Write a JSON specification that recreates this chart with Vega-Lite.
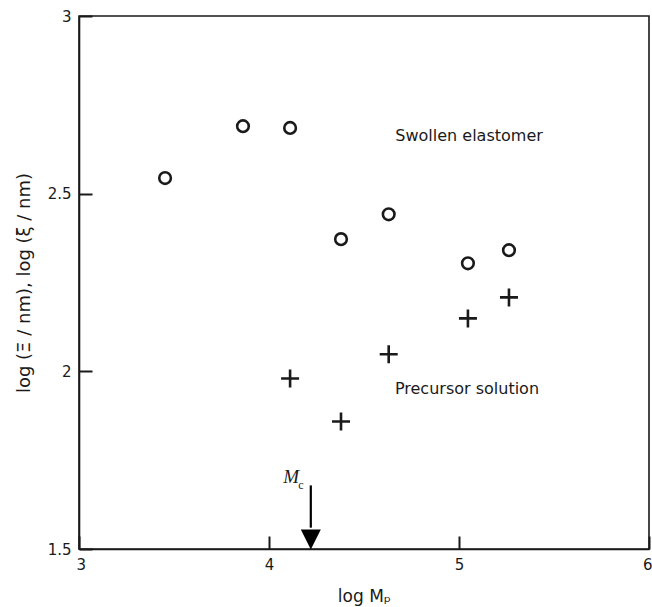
{
  "$schema": "https://vega.github.io/schema/vega-lite/v6.json",
  "width": 570,
  "height": 533,
  "autosize": {"type": "none"},
  "padding": {"left": 79, "top": 16, "right": 3, "bottom": 58},
  "background": "white",
  "config": {
    "view": {"stroke": "#1a1a1a", "strokeWidth": 1.6},
    "axis": {
      "domainColor": "#1a1a1a",
      "domainWidth": 1.6,
      "tickColor": "#1a1a1a",
      "tickWidth": 2,
      "tickSize": -13,
      "grid": false,
      "labelFont": "DejaVu Sans",
      "labelFontSize": 15,
      "labelColor": "#1a1a1a",
      "titleFont": "DejaVu Sans",
      "titleFontSize": 17,
      "titleFontWeight": "normal",
      "titleColor": "#1a1a1a"
    }
  },
  "datasets": {
    "points": [
      {"logMp": 3.453, "logXi": 2.544, "series": "Swollen elastomer"},
      {"logMp": 3.863, "logXi": 2.690, "series": "Swollen elastomer"},
      {"logMp": 4.111, "logXi": 2.685, "series": "Swollen elastomer"},
      {"logMp": 4.379, "logXi": 2.372, "series": "Swollen elastomer"},
      {"logMp": 4.630, "logXi": 2.442, "series": "Swollen elastomer"},
      {"logMp": 5.047, "logXi": 2.304, "series": "Swollen elastomer"},
      {"logMp": 5.263, "logXi": 2.341, "series": "Swollen elastomer"},
      {"logMp": 4.111, "logXi": 1.980, "series": "Precursor solution"},
      {"logMp": 4.379, "logXi": 1.859, "series": "Precursor solution"},
      {"logMp": 4.630, "logXi": 2.048, "series": "Precursor solution"},
      {"logMp": 5.047, "logXi": 2.149, "series": "Precursor solution"},
      {"logMp": 5.263, "logXi": 2.208, "series": "Precursor solution"}
    ],
    "labels": [
      {"x": 5.053, "y": 2.662, "label": "Swollen elastomer"},
      {"x": 5.042, "y": 1.949, "label": "Precursor solution"}
    ],
    "arrow": [
      {"x": 4.22, "y": 1.679, "y2": 1.56, "tip": 1.5268}
    ],
    "mc": [
      {"x": 4.116, "y": 1.703, "label": "M"}
    ],
    "mcsub": [
      {"x": 4.168, "y": 1.680, "label": "c"}
    ]
  },
  "layer": [
    {
      "data": {"name": "points"},
      "transform": [{"filter": "datum.series === 'Swollen elastomer'"}],
      "mark": {"type": "point", "shape": "circle", "filled": false, "stroke": "#1a1a1a", "strokeWidth": 2.6, "size": 135, "opacity": 1},
      "encoding": {
        "x": {
          "field": "logMp", "type": "quantitative",
          "scale": {"domain": [3, 6], "nice": false, "zero": false},
          "axis": {
            "values": [3, 4, 5, 6], "format": "~g", "labelPadding": 21,
            "labelFlush": true, "labelFlushOffset": 3,
            "title": "log Mₚ", "titlePadding": 16,
            "encode": {"ticks": {"update": {"y2": {"value": -13}}}}
          }
        },
        "y": {
          "field": "logXi", "type": "quantitative",
          "scale": {"domain": [1.5, 3], "nice": false, "zero": false},
          "axis": {
            "values": [1.5, 2, 2.5, 3], "format": "~g", "labelPadding": 21,
            "labelFlush": false,
            "title": "log (Ξ / nm),  log (ξ / nm)", "titleFontSize": 18, "titlePadding": 14,
            "encode": {"ticks": {"update": {"x2": {"value": 13}}}}
          }
        }
      }
    },
    {
      "data": {"name": "points"},
      "transform": [{"filter": "datum.series === 'Precursor solution'"}],
      "mark": {"type": "point", "shape": "M-1,0L1,0M0,-1L0,1", "filled": false, "stroke": "#1a1a1a", "strokeWidth": 2.6, "size": 324, "opacity": 1},
      "encoding": {
        "x": {"field": "logMp", "type": "quantitative"},
        "y": {"field": "logXi", "type": "quantitative"}
      }
    },
    {
      "data": {"name": "labels"},
      "mark": {"type": "text", "font": "DejaVu Sans", "fontSize": 16, "color": "#1a1a1a", "align": "center", "baseline": "middle"},
      "encoding": {
        "x": {"field": "x", "type": "quantitative"},
        "y": {"field": "y", "type": "quantitative"},
        "text": {"field": "label"}
      }
    },
    {
      "data": {"name": "arrow"},
      "mark": {"type": "rule", "color": "#000000", "strokeWidth": 2.2},
      "encoding": {
        "x": {"field": "x", "type": "quantitative"},
        "y": {"field": "y", "type": "quantitative"},
        "y2": {"field": "y2"}
      }
    },
    {
      "data": {"name": "arrow"},
      "mark": {"type": "point", "shape": "M-1,-1L1,-1L0,1Z", "filled": true, "color": "#000000", "size": 400, "opacity": 1},
      "encoding": {
        "x": {"field": "x", "type": "quantitative"},
        "y": {"field": "tip", "type": "quantitative"}
      }
    },
    {
      "data": {"name": "mc"},
      "mark": {"type": "text", "font": "Liberation Serif", "fontStyle": "italic", "fontSize": 19, "color": "#1a1a1a", "align": "center", "baseline": "middle"},
      "encoding": {
        "x": {"field": "x", "type": "quantitative"},
        "y": {"field": "y", "type": "quantitative"},
        "text": {"field": "label"}
      }
    },
    {
      "data": {"name": "mcsub"},
      "mark": {"type": "text", "font": "Liberation Serif", "fontSize": 12, "color": "#1a1a1a", "align": "center", "baseline": "middle"},
      "encoding": {
        "x": {"field": "x", "type": "quantitative"},
        "y": {"field": "y", "type": "quantitative"},
        "text": {"field": "label"}
      }
    }
  ]
}
